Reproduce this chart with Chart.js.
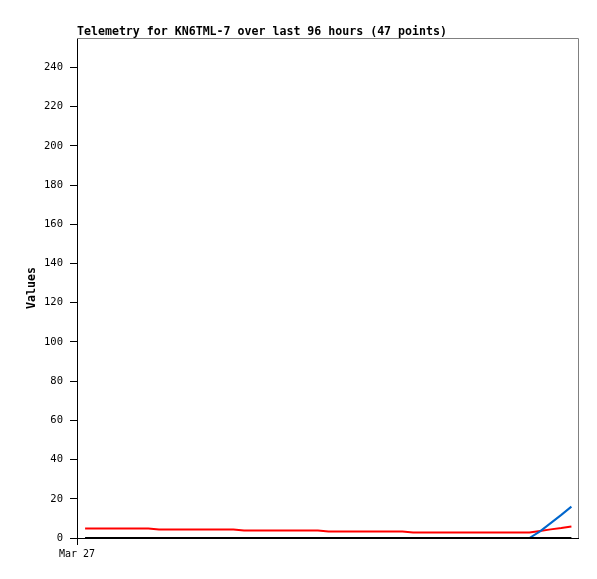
<!DOCTYPE html>
<html>
<head>
<meta charset="utf-8">
<script src="https://cdn.jsdelivr.net/npm/chart.js@4/dist/chart.umd.min.js"></script>
<style>
  html, body { margin: 0; padding: 0; background: #fff; }
  #wrap { width: 597px; height: 579px; }
</style>
</head>
<body>
<div id="wrap"><canvas id="telemetryChart" width="597" height="579"></canvas></div>
<script>
// Telemetry samples, hours since Mar 27 00:00
const sampleHours = [
  1.6, 3.7, 5.8, 7.9, 10.0, 12.0, 14.1, 16.2, 18.3, 20.4,
  22.5, 24.6, 26.7, 28.8, 30.9, 33.0, 35.0, 37.1, 39.2, 41.3,
  43.4, 45.5, 47.6, 49.7, 51.8, 53.9, 55.9, 58.0, 60.1, 62.2,
  64.3, 66.4, 68.5, 70.6, 72.7, 74.8, 76.8, 78.9, 81.0, 83.1,
  85.2, 87.3, 89.4, 91.5, 93.6, 95.7, 97.7
];

const redValues = [
  4.8, 4.8, 4.8, 4.8, 4.8, 4.8, 4.8,
  4.3, 4.3, 4.3, 4.3, 4.3, 4.3, 4.3, 4.3,
  3.8, 3.8, 3.8, 3.8, 3.8, 3.8, 3.8, 3.8,
  3.3, 3.3, 3.3, 3.3, 3.3, 3.3, 3.3, 3.3,
  2.8, 2.8, 2.8, 2.8, 2.8, 2.8, 2.8, 2.8, 2.8, 2.8, 2.8, 2.8,
  3.6, 4.4, 5.1, 5.9
];

const blueValues = [
  0, 0, 0, 0, 0, 0, 0, 0, 0, 0,
  0, 0, 0, 0, 0, 0, 0, 0, 0, 0,
  0, 0, 0, 0, 0, 0, 0, 0, 0, 0,
  0, 0, 0, 0, 0, 0, 0, 0, 0, 0,
  0, 0, 0, 3.4, 7.6, 11.8, 16
];

const blackValues = [
  0, 0, 0, 0, 0, 0, 0, 0, 0, 0,
  0, 0, 0, 0, 0, 0, 0, 0, 0, 0,
  0, 0, 0, 0, 0, 0, 0, 0, 0, 0,
  0, 0, 0, 0, 0, 0, 0, 0, 0, 0,
  0, 0, 0, 0, 0, 0, 0
];

const yTicks = [0, 20, 40, 60, 80, 100, 120, 140, 160, 180, 200, 220, 240];
const xTicks = [0];
const xTickLabels = ['Mar 27'];
const titleText = 'Telemetry for KN6TML-7 over last 96 hours (47 points)';

const MONO = '"DejaVu Sans Mono", "Liberation Mono", monospace';

function toPoints(values) {
  return values.map((v, i) => ({ x: sampleHours[i], y: v }));
}

// cadre gris + titre au-dessus de la zone de tracé
const framePlugin = {
  id: 'frame',
  beforeDatasetsDraw(chart) {
    const a = chart.chartArea;
    const ctx = chart.ctx;
    ctx.save();
    ctx.strokeStyle = '#808080';
    ctx.lineWidth = 1;
    ctx.beginPath();
    ctx.moveTo(a.left, a.top + 0.5);
    ctx.lineTo(a.right + 0.5, a.top + 0.5);
    ctx.lineTo(a.right + 0.5, a.bottom);
    ctx.stroke();
    ctx.restore();
  },
  afterDraw(chart) {
    const a = chart.chartArea;
    const ctx = chart.ctx;
    ctx.save();
    ctx.fillStyle = '#000';
    ctx.font = 'bold 11.6px ' + MONO;
    ctx.textAlign = 'left';
    ctx.textBaseline = 'alphabetic';
    ctx.fillText(titleText, a.left, a.top - 3);
    ctx.restore();
  }
};

function initChart() {
  const ctx = document.getElementById('telemetryChart').getContext('2d');
  new Chart(ctx, {
    type: 'line',
    data: {
      datasets: [
        { data: toPoints(blackValues), borderColor: '#000000', borderWidth: 2 },
        { data: toPoints(blueValues), borderColor: '#0066cc', borderWidth: 2 },
        { data: toPoints(redValues), borderColor: '#ff0000', borderWidth: 2 }
      ]
    },
    options: {
      responsive: false,
      animation: false,
      devicePixelRatio: 1,
      layout: { padding: { left: 0, right: 19, top: 38, bottom: 0 } },
      plugins: {
        legend: { display: false },
        tooltip: { enabled: false }
      },
      elements: {
        point: { radius: 0 },
        line: { tension: 0, fill: false, borderCapStyle: 'butt' }
      },
      scales: {
        x: {
          type: 'linear',
          min: 0,
          max: 99,
          afterBuildTicks: axis => { axis.ticks = xTicks.map(v => ({ value: v })); },
          afterFit: axis => { axis.height = 41; },
          border: { color: '#000', width: 1 },
          grid: { drawOnChartArea: false, tickColor: '#000', tickLength: 7 },
          ticks: {
            color: '#000',
            font: { family: MONO, size: 10 },
            padding: 3,
            maxRotation: 0,
            callback: (v, i) => xTickLabels[i]
          }
        },
        y: {
          min: 0,
          max: 255,
          afterBuildTicks: axis => { axis.ticks = yTicks.map(v => ({ value: v })); },
          afterFit: axis => { axis.width = 77; },
          border: { color: '#000', width: 1 },
          grid: { drawOnChartArea: false, tickColor: '#000', tickLength: 7 },
          title: {
            display: true,
            text: 'Values',
            color: '#000',
            font: { family: MONO, size: 11.6, weight: 'bold' },
            padding: { top: 25, bottom: 0 }
          },
          ticks: {
            color: '#000',
            font: { family: MONO, size: 10.5 },
            padding: 7
          }
        }
      }
    },
    plugins: [framePlugin]
  });
}

window.addEventListener('load', initChart);
</script>
</body>
</html>
